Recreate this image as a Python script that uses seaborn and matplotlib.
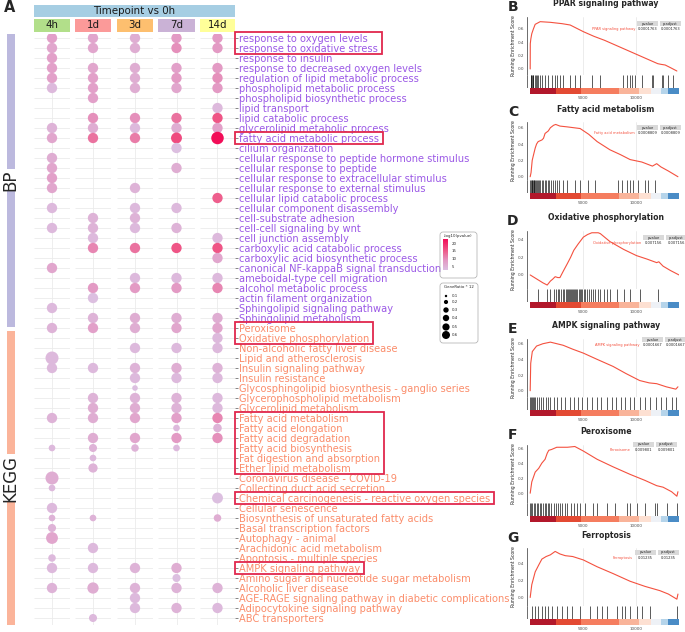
import matplotlib
matplotlib.use('Agg')
import matplotlib.pyplot as plt
import seaborn as sns
import numpy as np
import pandas as pd
from matplotlib.colors import LinearSegmentedColormap
from matplotlib.patches import Rectangle, FancyBboxPatch

sns.set_style('white')
plt.rcParams['font.family'] = ['DejaVu Sans']

# ---------------- panel A data ----------------
bp_terms = ['response to oxygen levels', 'response to oxidative stress', 'response to insulin',
            'response to decreased oxygen levels', 'regulation of lipid metabolic process',
            'phospholipid metabolic process', 'phospholipid biosynthetic process', 'lipid transport',
            'lipid catabolic process', 'glycerolipid metabolic process', 'fatty acid metabolic process',
            'cilium organization', 'cellular response to peptide hormone stimulus',
            'cellular response to peptide', 'cellular response to extracellular stimulus',
            'cellular response to external stimulus', 'cellular lipid catabolic process',
            'cellular component disassembly', 'cell-substrate adhesion', 'cell-cell signaling by wnt',
            'cell junction assembly', 'carboxylic acid catabolic process',
            'carboxylic acid biosynthetic process', 'canonical NF-kappaB signal transduction',
            'ameboidal-type cell migration', 'alcohol metabolic process', 'actin filament organization',
            'Sphingolipid signaling pathway', 'Sphingolipid metabolism']
kegg_terms = ['Peroxisome', 'Oxidative phosphorylation', 'Non-alcoholic fatty liver disease',
              'Lipid and atherosclerosis', 'Insulin signaling pathway', 'Insulin resistance',
              'Glycosphingolipid biosynthesis - ganglio series', 'Glycerophospholipid metabolism',
              'Glycerolipid metabolism', 'Fatty acid metabolism', 'Fatty acid elongation',
              'Fatty acid degradation', 'Fatty acid biosynthesis', 'Fat digestion and absorption',
              'Ether lipid metabolism', 'Coronavirus disease - COVID-19', 'Collecting duct acid secretion',
              'Chemical carcinogenesis - reactive oxygen species', 'Cellular senescence',
              'Biosynthesis of unsaturated fatty acids', 'Basal transcription factors', 'Autophagy - animal',
              'Arachidonic acid metabolism', 'Apoptosis - multiple species', 'AMPK signaling pathway',
              'Amino sugar and nucleotide sugar metabolism', 'Alcoholic liver disease',
              'AGE-RAGE signaling pathway in diabetic complications', 'Adipocytokine signaling pathway',
              'ABC transporters']
timepoints = ['4h', '1d', '3d', '7d', '14d']
strip_colors = ['#b2df8a', '#fb9a99', '#fdbf6f', '#cab2d6', '#ffff99']

# -log10(pvalue) per term, 0 = not enriched
logp_4h = [8, 7, 8, 8, 8, 4, 0, 0, 0, 5,
           7, 0, 6, 7, 8, 7, 0, 4, 0, 4,
           0, 0, 0, 7, 0, 0, 0, 4, 0, 5,
           0, 0, 4, 4, 0, 0, 0, 0, 5, 0,
           0, 4, 0, 0, 6, 4, 0, 4, 5, 5,
           7, 0, 4, 4, 0, 5, 0, 0, 0]
logp_1d = [7, 7, 0, 7, 8, 8, 8, 0, 10, 6,
           13, 0, 0, 0, 0, 0, 0, 0, 5, 5,
           4, 11, 0, 0, 0, 9, 3, 0, 5, 8,
           0, 0, 0, 4, 0, 0, 5, 6, 6, 0,
           6, 5, 4, 5, 0, 0, 0, 0, 5, 0,
           0, 4, 0, 4, 0, 6, 0, 0, 4]
logp_3d = [6, 6, 0, 6, 6, 6, 0, 0, 10, 4,
           12, 0, 0, 0, 0, 5, 0, 4, 5, 4,
           0, 13, 0, 0, 4, 9, 0, 0, 6, 6,
           0, 4, 0, 5, 4, 3, 5, 6, 7, 0,
           7, 5, 0, 0, 0, 0, 0, 0, 0, 0,
           0, 0, 0, 5, 0, 5, 4, 4, 0]
logp_7d = [9, 10, 0, 8, 9, 7, 0, 0, 13, 6,
           17, 3, 0, 6, 0, 0, 0, 4, 0, 5,
           0, 16, 0, 0, 4, 9, 0, 0, 6, 7,
           0, 4, 0, 6, 4, 0, 5, 5, 8, 4,
           9, 4, 0, 0, 0, 0, 0, 0, 0, 0,
           0, 0, 0, 6, 3, 5, 0, 5, 0]
logp_14d = [9, 9, 0, 9, 10, 9, 0, 4, 16, 8,
            23, 0, 0, 0, 0, 0, 15, 0, 0, 0,
            4, 16, 7, 0, 4, 11, 0, 0, 6, 7,
            4, 4, 0, 5, 4, 0, 4, 4, 11, 5,
            10, 0, 0, 0, 0, 0, 3, 0, 6, 0,
            0, 0, 0, 0, 0, 5, 0, 4, 0]

# GeneRatio per term
ratio_4h = [.3, .3, .3, .3, .3, .3, 0, 0, 0, .3,
            .3, 0, .3, .3, .3, .3, 0, .3, 0, .3,
            0, 0, 0, .3, 0, 0, 0, .3, 0, .3,
            0, 0, .45, .3, 0, 0, 0, 0, .3, 0,
            0, .15, 0, 0, .45, .15, 0, .3, .15, .2,
            .38, 0, .18, .3, 0, .3, 0, 0, 0]
ratio_1d = [.3, .3, 0, .3, .3, .3, .3, 0, .3, .3,
            .3, 0, 0, 0, 0, 0, 0, 0, .3, .3,
            .3, .3, 0, 0, 0, .3, .3, 0, .3, .3,
            0, 0, 0, .3, 0, 0, .3, .3, .3, 0,
            .3, .2, .15, .25, 0, 0, 0, 0, .15, 0,
            0, .3, 0, .3, 0, .35, 0, 0, .2]
ratio_3d = [.3, .3, 0, .3, .3, .3, 0, 0, .3, .3,
            .3, 0, 0, 0, 0, .3, 0, .3, .3, .3,
            0, .3, 0, 0, .3, .3, 0, 0, .3, .3,
            0, .3, 0, .3, .3, .12, .3, .3, .3, 0,
            .3, .18, 0, 0, 0, 0, 0, 0, 0, 0,
            0, 0, 0, .3, 0, .3, .3, .3, 0]
ratio_7d = [.3, .3, 0, .3, .3, .3, 0, 0, .3, .3,
            .33, .3, 0, .3, 0, 0, 0, .3, 0, .3,
            0, .3, 0, 0, .3, .3, 0, 0, .3, .3,
            0, .3, 0, .3, .3, 0, .3, .3, .3, .15,
            .3, .15, 0, 0, 0, 0, 0, 0, 0, 0,
            0, 0, 0, .3, .2, .3, 0, .3, 0]
ratio_14d = [.3, .3, 0, .3, .3, .3, 0, .3, .3, .3,
             .42, 0, 0, 0, 0, 0, .3, 0, 0, 0,
             .3, .3, .3, 0, .3, .3, 0, 0, .3, .3,
             .3, .3, 0, .3, .3, 0, .3, .3, .3, .22,
             .3, 0, 0, 0, 0, 0, .33, 0, .18, 0,
             0, 0, 0, 0, 0, .3, 0, .3, 0]

logp_all = [logp_4h, logp_1d, logp_3d, logp_7d, logp_14d]
ratio_all = [ratio_4h, ratio_1d, ratio_3d, ratio_7d, ratio_14d]
boxed_rows = [(1, 2), (11, 11), (30, 31), (39, 44), (47, 47), (54, 54)]

# ---------------- GSEA data ----------------
gsea_titles = ['PPAR signaling pathway', 'Fatty acid metabolism', 'Oxidative phosphorylation',
               'AMPK signaling pathway', 'Peroxisome', 'Ferroptosis']
gsea_pvalue = ['0.0001763', '0.0008809', '0.007156', '0.0001667', '0.009801', '0.01235']

ppar_rank = [0, 10, 60, 150, 300, 470, 940, 1900, 3000, 3760, 5000, 6000, 7000, 8000, 9000,
             10000, 11000, 12000, 12300, 12700, 13200, 13800]
ppar_es = [0.0, 0.38, 0.45, 0.53, 0.6, 0.67, 0.71, 0.70, 0.68, 0.66, 0.56, 0.49, 0.43, 0.36,
           0.29, 0.22, 0.15, 0.08, 0.07, 0.06, 0.02, -0.03]
ppar_hits = [30, 80, 160, 230, 310, 420, 550, 630, 780, 950, 1100, 1400, 1720, 2040, 2350, 2500,
             2820, 3130, 3760, 4230, 4700, 5800, 6580, 8770, 9090, 9400, 9550, 9870, 10500, 11440,
             11600, 12380, 12530, 13000, 13470]

fa_rank = [0, 80, 190, 300, 470, 600, 750, 1100, 1250, 1400, 1700, 1900, 2200, 2400, 2800, 3500,
           4700, 5500, 6300, 7500, 8500, 9400, 10500, 11500, 11900, 12300, 13000, 13900]
fa_es = [0.0, 0.05, 0.2, 0.26, 0.35, 0.4, 0.43, 0.45, 0.47, 0.53, 0.56, 0.6, 0.63, 0.64, 0.62,
         0.61, 0.59, 0.52, 0.43, 0.33, 0.27, 0.21, 0.18, 0.13, 0.16, 0.12, 0.07, 0.0]
fa_hits = [20, 70, 130, 200, 260, 330, 400, 480, 560, 650, 740, 850, 960, 1080, 1200, 1350, 1500,
           1650, 1800, 1980, 2150, 2350, 2550, 2750, 3130, 3450, 4230, 4700, 5480, 6110, 8300,
           8600, 9090, 9400, 9700, 10180, 10810, 11120, 11750]

ox_rank = [0, 400, 800, 1200, 1600, 1900, 2100, 2350, 2600, 2800, 3100, 3500, 3800, 4100, 4500,
           5000, 5400, 5800, 6400, 6600, 7500, 8800, 10000, 11000, 11900, 12100, 12500, 13200, 14000]
ox_es = [0.0, -0.03, -0.06, -0.09, -0.115, -0.07, -0.05, -0.02, -0.03, -0.03, 0.04, 0.13, 0.2,
         0.28, 0.35, 0.43, 0.46, 0.48, 0.48, 0.47, 0.38, 0.29, 0.22, 0.18, 0.14, 0.15, 0.1, 0.05, 0.0]
ox_hits = [700, 1600, 1900, 2200, 2400, 2600, 2750, 2900, 3050, 3200, 3350, 3450, 3550, 3650, 3750,
           3850, 3950, 4050, 4150, 4250, 4350, 4450, 4550, 4650, 4750, 4900, 5050, 5200, 5350,
           5500, 5700, 5900, 6100, 6350, 6600, 6900, 7200, 7500, 8150, 8800, 9400, 10300, 12060]

ampk_rank = [0, 50, 200, 600, 1200, 1900, 2500, 3100, 4000, 5000, 6300, 7800, 9000, 10300, 11200,
             11900, 12800, 13700, 13900]
ampk_es = [0.0, 0.35, 0.5, 0.57, 0.6, 0.62, 0.6, 0.58, 0.53, 0.48, 0.4, 0.31, 0.22, 0.13, 0.1,
           0.09, 0.05, 0.02, 0.05]
ampk_hits = [20, 80, 150, 250, 350, 480, 620, 800, 1000, 1250, 1500, 1700, 1900, 2200, 2500, 2900,
             3300, 3700, 4100, 4500, 4900, 5300, 5800, 6300, 6700, 7200, 7700, 8100, 8500, 8900,
             9400, 9800, 10300, 10800, 11300, 11800, 12300, 12800, 13300, 13700]

perox_rank = [0, 150, 470, 800, 1100, 1400, 1600, 1750, 2000, 2500, 3500, 4200, 5000, 6300, 7800,
              9400, 10800, 11900, 12500, 13300, 13800, 13900]
perox_es = [0.0, 0.15, 0.28, 0.33, 0.4, 0.45, 0.53, 0.57, 0.58, 0.61, 0.61, 0.62, 0.56, 0.45,
            0.35, 0.25, 0.17, 0.1, 0.08, 0.02, -0.04, 0.02]
perox_hits = [20, 100, 200, 320, 450, 600, 750, 900, 1050, 1200, 1350, 1500, 1650, 1800, 2000, 2200,
              2400, 2600, 2800, 3000, 3250, 3500, 3800, 4100, 4400, 4700, 5170, 5950, 6270, 7200,
              7990, 9090, 9400, 10030, 10810, 11750, 11900, 12850, 13780]

ferro_rank = [0, 150, 470, 800, 1100, 1500, 1900, 2350, 2800, 3300, 4000, 5000, 6300, 7800, 9400,
              10800, 12200, 13000, 13800, 13900]
ferro_es = [0.0, 0.15, 0.3, 0.38, 0.45, 0.48, 0.5, 0.54, 0.51, 0.49, 0.48, 0.44, 0.36, 0.28, 0.19,
            0.13, 0.08, 0.04, -0.02, 0.04]
ferro_hits = [160, 470, 780, 1100, 1400, 1720, 2040, 2500, 2980, 3450, 3920, 4700, 5640, 6270, 6740,
              7200, 8150, 8620, 8930, 9400, 10030, 10500, 11280, 13780]

bar_edges = [0, 2400, 4800, 8400, 10200, 11400, 12300, 13000, 14000]
bar_colors = ['#b2182b', '#e34a33', '#f57d5f', '#f9b49a', '#fde0d2', '#eef1f6', '#b5d4ea', '#4a8cc6']

# ---------------- figure ----------------
W, H = 685, 632
fig = plt.figure(figsize=(W / 100, H / 100), dpi=100)

ov = fig.add_axes([0, 0, 1, 1])
ov.set_xlim(0, W)
ov.set_ylim(H, 0)
ov.axis('off')
ov.set_zorder(10)


def px_axes(x0, y0, x1, y1):
    return fig.add_axes([x0 / W, 1 - y1 / H, (x1 - x0) / W, (y1 - y0) / H])


terms = bp_terms + kegg_terms
rows = np.arange(1, len(terms) + 1)
label_colors = ['#9b59e6'] * len(bp_terms) + ['#fb8d6b'] * len(kegg_terms)
cmap = LinearSegmentedColormap.from_list(
    'pv', [(0, '#dcbfe0'), (0.3, '#e39ac4'), (0.6, '#ee5f8d'), (1, '#f20d58')])

facet_x = [(34, 70), (75, 111), (117, 153), (158, 195), (200, 235)]
tick_labels = None
for i, tp in enumerate(timepoints):
    x0, x1 = facet_x[i]
    ax = px_axes(x0, 34, x1, 625)
    df = pd.DataFrame({'row': rows, 'logp': logp_all[i], 'ratio': ratio_all[i], 'x': 0.0})
    df = df[df['logp'] > 0]
    ax.hlines(rows, -0.5, 0.5, color='#ebebeb', lw=0.6, zorder=0)
    ax.vlines(0, 0, 60, color='#ebebeb', lw=0.6, zorder=0)
    sns.scatterplot(data=df, x='x', y='row', hue='logp', size='ratio', palette=cmap,
                    hue_norm=(3, 23), sizes=(12, 120), size_norm=(0.1, 0.6),
                    edgecolor='none', linewidth=0, legend=False, ax=ax, zorder=3)
    ax.set_xlim(-0.5, 0.5)
    ax.set_ylim(59.7, 0.6)
    ax.set_xlabel('')
    ax.set_ylabel('')
    ax.set_xticks([])
    ax.set_yticks(rows)
    for s in ax.spines.values():
        s.set_visible(False)
    if i == len(timepoints) - 1:
        ax.set_yticklabels(terms, fontsize=7.1)
        ax.tick_params(axis='y', left=False, right=True, labelleft=False, labelright=True,
                       length=2, width=0.5, color='#555555', pad=1)
        for lab, c in zip(ax.get_yticklabels(), label_colors):
            lab.set_color(c)
        tick_labels = ax.get_yticklabels()
    else:
        ax.set_yticklabels([])
        ax.tick_params(axis='y', length=0)
    # column strip
    ov.add_patch(Rectangle((x0, 19), x1 - x0, 13, color=strip_colors[i], lw=0))
    ov.text((x0 + x1) / 2, 25.5, tp, ha='center', va='center', fontsize=7.4, color='#1a1a1a')

ov.add_patch(Rectangle((34, 5), 201, 12, color='#a6cee3', lw=0))
ov.text(134.5, 11, 'Timepoint vs 0h', ha='center', va='center', fontsize=7.4, color='#1a1a1a')
ov.text(4, 8, 'A', ha='left', va='center', fontsize=10.5, fontweight='bold')

# category bars
ov.add_patch(Rectangle((7, 34), 8, 293, color='#bcb9de', lw=0))
ov.add_patch(Rectangle((7, 331), 8, 294, color='#fbb49a', lw=0))
ov.text(10, 180, 'BP', rotation=90, ha='center', va='center', fontsize=12,
        bbox=dict(facecolor='white', edgecolor='none', pad=0.5))
ov.text(10, 478, 'KEGG', rotation=90, ha='center', va='center', fontsize=12,
        bbox=dict(facecolor='white', edgecolor='none', pad=0.5))

# colour legend
ov.add_patch(FancyBboxPatch((440, 232), 37, 46, boxstyle='round,pad=0,rounding_size=3',
                            fc='none', ec='#aaaaaa', lw=0.5))
ov.text(458, 236, '-log10(pvalue)', ha='center', va='center', fontsize=2.8)
gax = px_axes(443, 239, 448, 270)
gax.imshow(np.linspace(1, 0, 100).reshape(-1, 1), cmap=cmap, aspect='auto')
gax.axis('off')
for v in [20, 15, 10, 5]:
    ov.text(452, 270 - (v - 3) / 20 * 31, str(v), ha='left', va='center', fontsize=2.8)

# size legend
ov.add_patch(FancyBboxPatch((440, 283), 38, 60, boxstyle='round,pad=0,rounding_size=3',
                            fc='none', ec='#aaaaaa', lw=0.5))
ov.text(459, 287, 'GeneRatio * 12', ha='center', va='center', fontsize=2.8)
leg_ratio = [0.1, 0.2, 0.3, 0.4, 0.5, 0.6]
leg_y = [296, 302, 310, 318, 327, 335]
ov.scatter([446] * 6, leg_y, s=[(10 + 200 * (r - 0.1)) * 0.3 for r in leg_ratio], color='black', lw=0)
for r, y in zip(leg_ratio, leg_y):
    ov.text(452, y, str(r), ha='left', va='center', fontsize=2.8)

# ---------------- GSEA panels ----------------
panels = [(ppar_rank, ppar_es, ppar_hits), (fa_rank, fa_es, fa_hits), (ox_rank, ox_es, ox_hits),
          (ampk_rank, ampk_es, ampk_hits), (perox_rank, perox_es, perox_hits),
          (ferro_rank, ferro_es, ferro_hits)]
gsea_top = [4, 109, 218, 326, 432, 535]
ylims = [(-0.09, 0.78), (-0.04, 0.67), (-0.16, 0.5), (-0.08, 0.66), (-0.13, 0.64), (-0.1, 0.58)]
yticks = [[0, 0.2, 0.4, 0.6], [0, 0.2, 0.4, 0.6], [0, 0.2, 0.4], [0, 0.2, 0.4, 0.6],
          [0, 0.2, 0.4, 0.6], [0, 0.2, 0.4]]
tbl_x = [637, 637, 643, 642, 633, 635]
tbl_dy = [17, 16, 17, 11, 10, 15]
letters = ['B', 'C', 'D', 'E', 'F', 'G']
red = '#f4513f'

for i, (rank, es, hits) in enumerate(panels):
    T = gsea_top[i]
    ax = px_axes(527, T + 13, 679, T + 71)
    ax.patch.set_alpha(0)
    ax.grid(axis='x', color='#e4e4e4', lw=0.5)
    sns.lineplot(x=rank, y=es, color=red, lw=0.8, ax=ax)
    ax.set_xlim(-300, 14000)
    ax.set_ylim(*ylims[i])
    ax.set_xticks([5000, 10000])
    ax.tick_params(axis='x', length=0, labelbottom=False)
    ax.set_yticks(yticks[i])
    ax.set_yticklabels([f'{v:.1f}' for v in yticks[i]], fontsize=3)
    ax.tick_params(axis='y', length=1, width=0.4, pad=1, colors='#4d4d4d')
    ax.set_ylabel('Running Enrichment Score', fontsize=3.3, labelpad=1.5)
    for k, s in ax.spines.items():
        s.set_visible(k == 'left')
    ax.spines['left'].set_linewidth(0.5)
    ax.spines['left'].set_color('#333333')

    hx = px_axes(527, T + 71, 679, T + 84)
    hx.vlines(hits, 0, 1, color='black', lw=0.6, alpha=0.75)
    hx.set_xlim(-300, 14000)
    hx.set_ylim(0, 1)
    hx.set_xticks([])
    hx.set_yticks([])
    for k, s in hx.spines.items():
        s.set_visible(k == 'left')
    hx.spines['left'].set_linewidth(0.5)
    hx.spines['left'].set_color('#333333')

    bx = px_axes(527, T + 84, 679, T + 90)
    for left, right, col in zip(bar_edges[:-1], bar_edges[1:], bar_colors):
        bx.axvspan(left, right, color=col, lw=0)
    bx.set_xlim(-300, 14000)
    bx.set_xticks([5000, 10000])
    bx.set_xticklabels(['5000', '10000'], fontsize=3)
    bx.tick_params(axis='x', length=1, width=0.4, pad=0.5, colors='#4d4d4d')
    bx.set_yticks([])
    for s in bx.spines.values():
        s.set_visible(False)

    ov.text(606, T, gsea_titles[i], ha='center', va='center', fontsize=5.6, fontweight='bold')
    ov.text(513, T + 3, letters[i], ha='center', va='center', fontsize=10, fontweight='bold')

    tx, ty = tbl_x[i], T + tbl_dy[i]
    for j, head in enumerate(['pvalue', 'p.adjust']):
        ov.add_patch(Rectangle((tx + j * 23, ty), 21, 5, color='#d9d9d9', lw=0))
        ov.text(tx + j * 23 + 10.5, ty + 2.5, head, ha='center', va='center', fontsize=2.6)
        ov.text(tx + j * 23 + 10.5, ty + 8, gsea_pvalue[i], ha='center', va='center', fontsize=2.6)
    ov.text(tx - 2, ty + 8, gsea_titles[i], ha='right', va='center', fontsize=2.6, color=red)

# red boxes around highlighted terms
fig.canvas.draw()
renderer = fig.canvas.get_renderer()
inv = ov.transData.inverted()
for a, b in boxed_rows:
    xmax = max(inv.transform(lab.get_window_extent(renderer).get_points())[1, 0]
               for lab in tick_labels[a - 1:b])
    y0 = 38 + 10 * (a - 1) - 6.5
    y1 = 38 + 10 * (b - 1) + 5.5
    ov.add_patch(Rectangle((235, y0), xmax + 4 - 235, y1 - y0, fill=False, ec='#e0284d', lw=1.3))

fig.savefig('out.png', dpi=100)
